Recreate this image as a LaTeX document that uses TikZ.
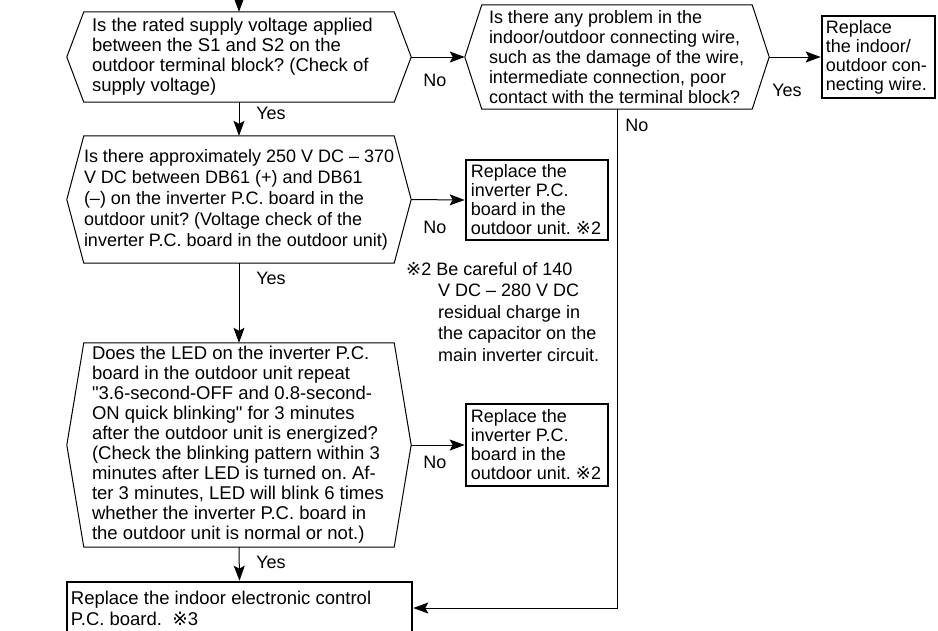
\documentclass[tikz,border=0pt]{standalone}
\usepackage{fontspec}
\setmainfont{Liberation Sans}
\newfontfamily\marksym{DejaVu Sans}
\usetikzlibrary{arrows.meta,calc,positioning}
\frenchspacing
\newcommand{\refmark}{{\marksym ※}}
\newcommand{\qfont}{\fontsize{18.5}{20}\selectfont}
\newcommand{\afont}{\fontsize{18}{19}\selectfont}
% outline of a decision node: rectangle with pointed ends
\newcommand{\hexframe}[1]{%
  \draw[hexline] (#1.north west) -- (#1.north east) -- ($(#1.east)+(17,0)$) coordinate (#1-r)
    -- (#1.south east) -- (#1.south west) -- ($(#1.west)+(-17,0)$) coordinate (#1-l) -- cycle;}

\begin{document}
\begin{tikzpicture}[
    x=1pt, y=-1pt,
    frame/.style={rectangle, inner sep=0pt},
    question/.style={inner sep=0pt, align=left, font=\qfont},
    action/.style={rectangle, draw, line width=2.6pt, inner sep=0pt},
    actext/.style={inner sep=0pt, align=left, font=\afont},
    answer/.style={font=\fontsize{18}{20}\selectfont, inner sep=0pt},
    hexline/.style={line width=1pt},
    arr/.style={-{Stealth[length=15pt,width=11pt,inset=3pt]}, line width=1pt}
]
\clip (0,0) rectangle (938,630);

% decisions
\node[frame, minimum width=310pt, minimum height=90pt] (supply) at (239,57) {};
\node[question, right=8pt of supply.west] (supplytxt)
  {Is the rated supply voltage applied\\between the S1 and S2 on the\\outdoor terminal block? (Check of\\supply voltage)};
\node[frame, minimum width=270pt, minimum height=104pt] (wire) at (617,57) {};
\node[question, right=7pt of wire.west, font=\fontsize{18}{20}\selectfont] (wiretxt)
  {Is there any problem in the\\indoor/outdoor connecting wire,\\such as the damage of the wire,\\intermediate connection, poor\\contact with the terminal block?};
\node[frame, minimum width=310pt, minimum height=127pt] (volt) at (239,199.5) {};
\node[question, right=0pt of volt.west, font=\fontsize{18}{21}\selectfont] (volttxt)
  {Is there approximately 250 V DC – 370\\V DC between DB61 (+) and DB61\\(–) on the inverter P.C. board in the\\outdoor unit? (Voltage check of the\\inverter P.C. board in the outdoor unit)};
\node[frame, minimum width=310pt, minimum height=204pt] (led) at (239,445) {};
\node[question, right=8pt of led.west] (ledtxt)
  {Does the LED on the inverter P.C.\\board in the outdoor unit repeat\\\textquotedbl 3.6-second-OFF and 0.8-second-\\ON quick blinking\textquotedbl\ for 3 minutes\\after the outdoor unit is energized?\\(Check the blinking pattern within 3\\minutes after LED is turned on. Af-\\ter 3 minutes, LED will blink 6 times\\whether the inverter P.C. board in\\the outdoor unit is normal or not.)};
\hexframe{supply}
\hexframe{wire}
\hexframe{volt}
\hexframe{led}

% actions
\node[action, minimum width=113pt, minimum height=82pt] (wirefix) at (878.5,57) {};
\node[actext, right=5pt of wirefix.west] (wirefixtxt)
  {Replace\\the indoor/\\outdoor con-\\necting wire.};
\node[action, minimum width=142pt, minimum height=80pt] (invfix1) at (537,200) {};
\node[actext, right=6pt of invfix1.west] (invfix1txt)
  {Replace the\\inverter P.C.\\board in the\\outdoor unit. \refmark2};
\node[action, minimum width=142pt, minimum height=82pt] (invfix2) at (537,445) {};
\node[actext, right=6pt of invfix2.west] (invfix2txt)
  {Replace the\\inverter P.C.\\board in the\\outdoor unit. \refmark2};
\node[action, minimum width=345pt, minimum height=52pt] (final) at (239.5,608) {};
\node[actext, right=5pt of final.west, font=\fontsize{18.5}{21}\selectfont] (finaltxt)
  {Replace the indoor electronic control\\P.C. board.\ \ \refmark3};

% note
\node[anchor=north west, inner sep=0pt, align=left, font=\fontsize{18}{21.5}\selectfont] (caution) at (406,262)
  {\refmark2 Be careful of 140\\\hspace*{32pt}V DC – 280 V DC\\\hspace*{32pt}residual charge in\\\hspace*{32pt}the capacitor on the\\\hspace*{32pt}main inverter circuit.};

% answers
\node[answer] (no1) at (435,80) {No};
\node[answer] (yes1) at (271,113) {Yes};
\node[answer] (yes2) at (787,90) {Yes};
\node[answer] (no2) at (637,125) {No};
\node[answer] (no3) at (435,227) {No};
\node[answer] (yes3) at (271,278) {Yes};
\node[answer] (no4) at (435,462) {No};
\node[answer] (yes4) at (271,562) {Yes};

% connectors
\coordinate (entry) at (239,-2);
\draw[arr] (entry) -- (supply.north);
\draw[arr] (supply-r) -- (wire-l);
\draw[arr] (wire-r) -- (wirefix.west);
\draw[arr] (supply.south) -- (volt.north);
\draw[arr] (volt-r) -- (invfix1.west);
\draw[arr] (volt.south) -- (led.north);
\draw[arr] (led-r) -- (invfix2.west);
\draw[arr] (led.south) -- (final.north);
\draw[arr] (wire.south) |- (final.east);

\end{tikzpicture}
\end{document}
